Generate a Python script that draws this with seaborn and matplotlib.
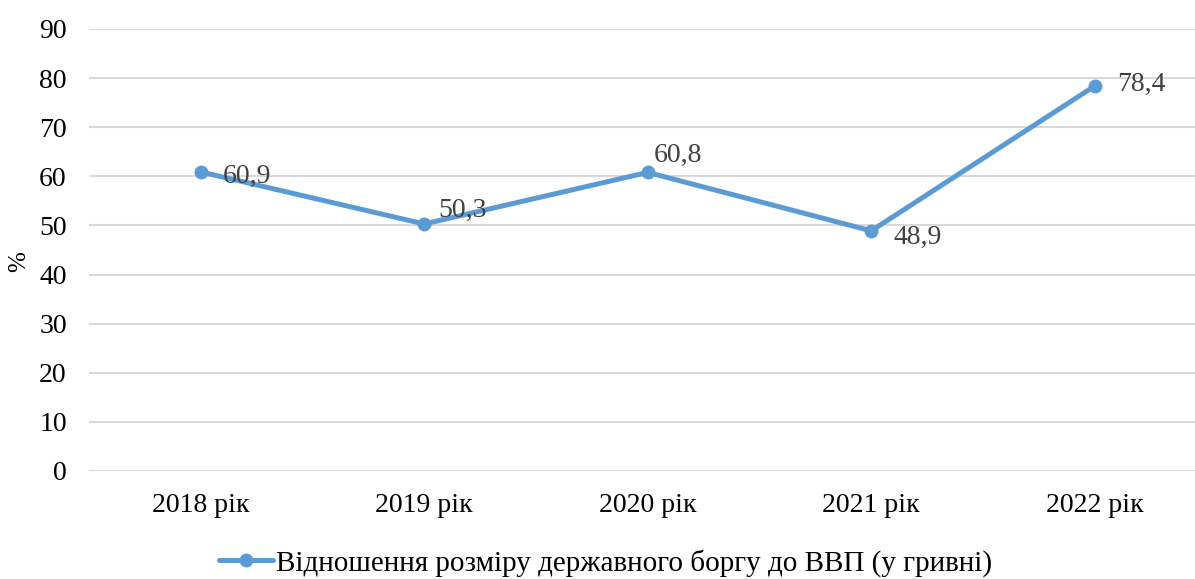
import matplotlib
matplotlib.use("Agg")
import matplotlib.pyplot as plt
import seaborn as sns
import pandas as pd

years = ["2018 рік", "2019 рік", "2020 рік", "2021 рік", "2022 рік"]
values = [60.9, 50.3, 60.8, 48.9, 78.4]
labels = ["60,9", "50,3", "60,8", "48,9", "78,4"]
series_name = "Відношення розміру державного боргу до ВВП (у гривні)"
yticks = [0, 10, 20, 30, 40, 50, 60, 70, 80, 90]

sns.set_theme(style="white")
plt.rcParams['font.family'] = ['Liberation Serif', 'DejaVu Serif']

df = pd.DataFrame({"x": list(range(len(years))), "y": values, "s": series_name})

fig = plt.figure(figsize=(11.95, 5.79), dpi=100)
ax = fig.add_axes([89/1195, 1-471/579, 1-89/1195, (471-29)/579])

color = "#5B9BD5"
sns.lineplot(data=df, x="x", y="y", hue="s", palette=[color], marker="o",
             markersize=10, linewidth=3.6, markeredgewidth=0, ax=ax, legend=False)

ax.set_ylim(0, 90)
ax.set_xlim(-0.5, (1195-89)/223.5 - 0.5)
ax.set_yticks(yticks)
ax.set_yticklabels([str(t) for t in yticks], fontsize=20, color="#000000")
ax.set_xticks(range(len(years)))
ax.set_xticklabels(years, fontsize=20, color="#000000")
ax.tick_params(axis="y", length=0, pad=16)
ax.tick_params(axis="x", length=0, pad=16)
ax.grid(axis="y", color="#D9D9D9", linewidth=1.5)
ax.set_axisbelow(True)
for s in ax.spines.values():
    s.set_visible(False)
ax.set_xlabel("")
ax.set_ylabel("")
fig.text(19/1195, 1-262/579, "%", rotation=90, ha="center", va="center",
         fontsize=18, color="#000000")

offsets = [(16, -3), (10, 10), (4, 12), (16, -5), (16, 1)]
for i, (v, lab) in enumerate(zip(values, labels)):
    ax.annotate(lab, (i, v), xytext=offsets[i], textcoords="offset points",
                ha="left", va="center", fontsize=20, color="#404040")

from matplotlib.lines import Line2D
h = Line2D([0], [0], color=color, linewidth=3.6, marker="o", markersize=10, markeredgewidth=0)
fig.legend([h], [series_name], loc="center", bbox_to_anchor=(606/1195, 1-563/579),
           frameon=False, fontsize=21, handlelength=1.85, handletextpad=0.1,
           labelcolor="#000000")

fig.savefig("out.png", dpi=100)
